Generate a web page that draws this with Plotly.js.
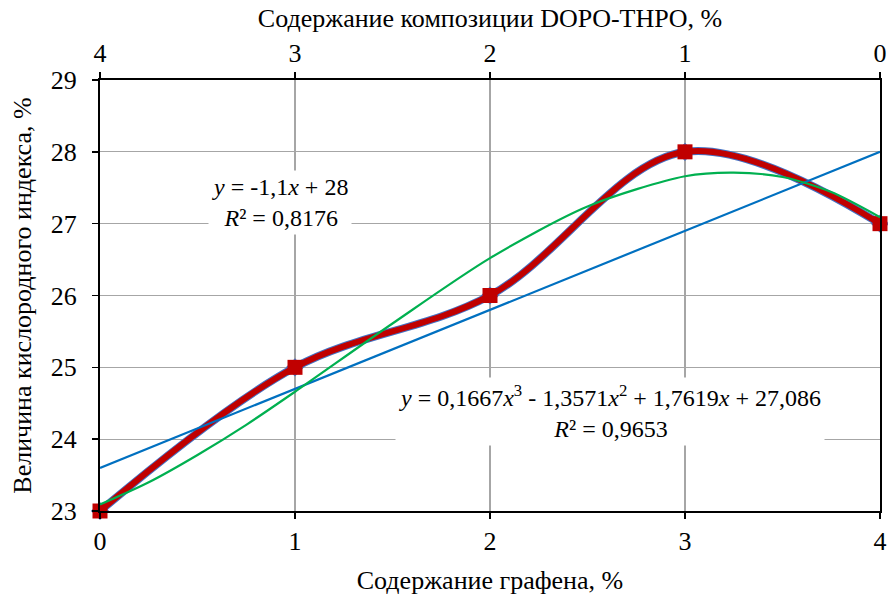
<!DOCTYPE html>
<html>
<head>
<meta charset="utf-8">
<script src="https://cdn.plot.ly/plotly-3.0.1.min.js"></script>
<style>html,body{margin:0;padding:0;background:#fff;}#chart{width:888px;height:601px;}</style>
</head>
<body>
<div id="chart"></div>
<script>
// Data
var grapheneContent = [0, 1, 2, 3, 4];
var oxygenIndex = [23, 25, 26, 28, 27];
var topTickVals = [4, 3, 2, 1, 0];
var topTickText = ['4', '3', '2', '1', '0'];
var linearX = [0, 4];
var linearY = [23.6, 28];
var cubicX = [0, 0.25, 0.5, 0.75, 1, 1.5, 2, 2.5, 3, 3.25, 3.5, 3.75, 4];
var cubicY = [23.09, 23.40, 23.78, 24.20, 24.66, 25.61, 26.52, 27.24, 27.66, 27.71, 27.65, 27.44, 27.09];
var linearEq = '<i>y</i> = -1,1<i>x</i> + 28<br><i>R</i>² = 0,8176';
var cubicEq = '<i>y</i> = 0,1667<i>x</i><sup>3</sup> - 1,3571<i>x</i><sup>2</sup> + 1,7619<i>x</i> + 27,086<br><i>R</i>² = 0,9653';

var font = 'Liberation Serif';
var fs = 26;

var traces = [
  {x: grapheneContent, y: oxygenIndex, mode: 'lines+markers', line: {shape: 'spline', smoothing: 1, color: '#4472C4', width: 8},
   marker: {symbol: 'diamond', size: 14, color: '#4472C4'}, cliponaxis: false, hoverinfo: 'skip', showlegend: false},
  {x: grapheneContent, y: oxygenIndex, mode: 'lines+markers', line: {shape: 'spline', smoothing: 1, color: '#C00000', width: 6},
   marker: {symbol: 'square', size: 15, color: '#C00000'}, cliponaxis: false, showlegend: false},
  {x: linearX, y: linearY, mode: 'lines', line: {color: '#0070C0', width: 2.2}, showlegend: false},
  {x: cubicX, y: cubicY, mode: 'lines', line: {shape: 'spline', smoothing: 0.8, color: '#00B050', width: 2.2}, showlegend: false},
  {x: topTickVals, y: [23, 23, 23, 23, 23], xaxis: 'x2', mode: 'markers', marker: {opacity: 0}, hoverinfo: 'skip', showlegend: false}
];

var layout = {
  width: 888, height: 601,
  margin: {l: 100, r: 8, t: 80, b: 90},
  paper_bgcolor: '#fff', plot_bgcolor: '#fff',
  font: {family: font, size: fs, color: '#000'},
  xaxis: {
    range: [0, 4], tickvals: grapheneContent, ticktext: ['0','1','2','3','4'],
    showgrid: true, gridcolor: '#A6A6A6', gridwidth: 1.3,
    showline: true, linecolor: '#000', linewidth: 2,
    ticks: 'outside', ticklen: 6, tickwidth: 1.5, tickcolor: '#000',
    zeroline: false,
    title: {text: 'Содержание графена, %', font: {family: font, size: fs}, standoff: 16},
    tickfont: {family: font, size: fs}
  },
  xaxis2: {
    overlaying: 'x', side: 'top', range: [4, 0], tickvals: topTickVals, ticktext: topTickText,
    showgrid: false, showline: true, linecolor: '#000', linewidth: 2,
    ticks: 'outside', ticklen: 6, tickwidth: 1.5, tickcolor: '#000', zeroline: false,
    title: {text: 'Содержание композиции DOPO-THPO, %', font: {family: font, size: fs}, standoff: 3},
    tickfont: {family: font, size: fs}
  },
  yaxis: {
    range: [23, 29], dtick: 1, tick0: 23,
    showgrid: true, gridcolor: '#A6A6A6', gridwidth: 1.3,
    showline: true, linecolor: '#000', linewidth: 2, mirror: true,
    ticks: 'outside', ticklen: 6, tickwidth: 1.5, tickcolor: '#000',
    ticklabelstandoff: 10,
    zeroline: false,
    title: {text: 'Величина кислородного индекса, %', font: {family: font, size: fs}, standoff: 12},
    tickfont: {family: font, size: fs}
  },
  annotations: [
    {x: 0.923, y: 27.3, xref: 'x', yref: 'y', text: linearEq, showarrow: false, bgcolor: '#fff',
     font: {family: font, size: 24}, align: 'center', borderpad: 3},
    {x: 2.615, y: 24.38, xref: 'x', yref: 'y', text: cubicEq, showarrow: false, bgcolor: '#fff',
     font: {family: font, size: 24}, align: 'center', borderpad: 3}
  ]
};

Plotly.newPlot('chart', traces, layout, {displayModeBar: false, staticPlot: true});
</script>
</body>
</html>
